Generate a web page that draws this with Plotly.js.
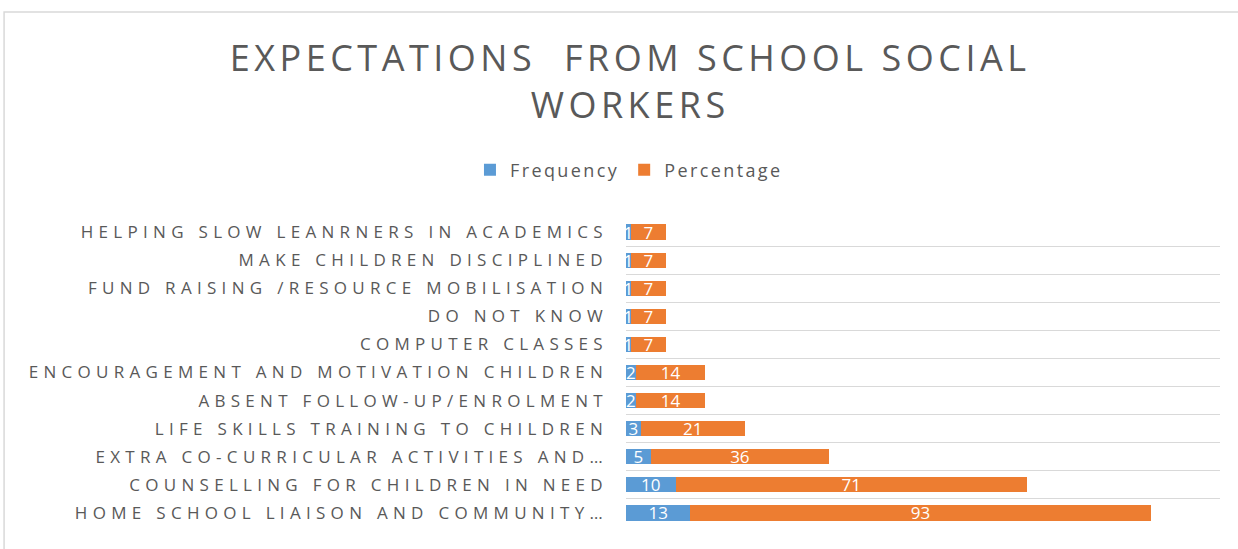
<!DOCTYPE html>
<html>
<head>
<meta charset="utf-8">
<script src="https://cdn.plot.ly/plotly-3.0.1.min.js"></script>
<style>
  html, body { margin: 0; padding: 0; background: #fff; }
  #chart { width: 1238px; height: 549px; }
  .ytick text { letter-spacing: 5.3px; }
  .gtitle { letter-spacing: 4.5px; }
  .legendtext { letter-spacing: 2.4px; }
</style>
</head>
<body>
<div id="chart"></div>
<script>
const categories = [
  "HOME SCHOOL LIAISON AND COMMUNITY…",
  "COUNSELLING FOR CHILDREN IN NEED",
  "EXTRA CO-CURRICULAR ACTIVITIES AND…",
  "LIFE SKILLS TRAINING TO CHILDREN",
  "ABSENT FOLLOW-UP/ENROLMENT",
  "ENCOURAGEMENT AND MOTIVATION CHILDREN",
  "COMPUTER CLASSES",
  "DO NOT KNOW",
  "FUND RAISING /RESOURCE MOBILISATION",
  "MAKE CHILDREN DISCIPLINED",
  "HELPING SLOW LEANRNERS IN ACADEMICS"
];
const frequency = [13, 10, 5, 3, 2, 2, 1, 1, 1, 1, 1];
const percentage = [93, 71, 36, 21, 14, 14, 7, 7, 7, 7, 7];

const common = {
  type: 'bar',
  orientation: 'h',
  y: categories,
  textposition: 'inside',
  insidetextanchor: 'middle',
  constraintext: 'none',
  textangle: 0,
  textfont: { family: 'Open Sans, sans-serif', size: 17, color: '#ffffff' },
  hoverinfo: 'x+y+name'
};

const data = [
  Object.assign({}, common, {
    name: 'Frequency',
    x: frequency,
    text: frequency.map(String),
    marker: { color: '#5B9BD5' }
  }),
  Object.assign({}, common, {
    name: 'Percentage',
    x: percentage,
    text: percentage.map(String),
    marker: { color: '#ED7D31' }
  })
];

const layout = {
  width: 1238,
  height: 549,
  paper_bgcolor: '#ffffff',
  plot_bgcolor: '#ffffff',
  barmode: 'stack',
  bargap: 0.46,
  margin: { l: 626, r: 18, t: 218, b: 22, pad: 0 },
  font: { family: 'Open Sans, sans-serif', color: '#595959' },
  title: {
    text: 'EXPECTATIONS  FROM SCHOOL SOCIAL<br>WORKERS',
    font: { family: 'Open Sans, sans-serif', size: 36, color: '#595959' },
    x: 0.509,
    xanchor: 'center',
    xref: 'container',
    y: 0.87,
    yanchor: 'top',
    yref: 'container'
  },
  showlegend: true,
  legend: {
    orientation: 'h',
    x: 0.005,
    xanchor: 'center',
    y: 1.155,
    yanchor: 'middle',
    itemwidth: 30,
    font: { family: 'Open Sans, sans-serif', size: 18, color: '#595959' },
    traceorder: 'normal'
  },
  xaxis: {
    range: [0, 120],
    showgrid: false,
    zeroline: false,
    showticklabels: false,
    showline: false,
    ticks: ''
  },
  yaxis: {
    type: 'category',
    tickson: 'boundaries',
    showgrid: true,
    gridcolor: '#d9d9d9',
    gridwidth: 1,
    ticks: '',
    ticklen: 0,
    showline: false,
    zeroline: false,
    automargin: false,
    tickfont: { family: 'Open Sans, sans-serif', size: 17, color: '#595959' },
    ticklabelstandoff: 17
  },
  shapes: [
    {
      type: 'rect', xref: 'paper', yref: 'paper',
      x0: -1.047, x1: 1.05, y0: -0.2, y1: 1.6667,
      line: { color: '#d9d9d9', width: 1.5 },
      fillcolor: 'rgba(0,0,0,0)', layer: 'below'
    }
  ]
};

Plotly.newPlot('chart', data, layout, { displayModeBar: false, responsive: false });
</script>
</body>
</html>
